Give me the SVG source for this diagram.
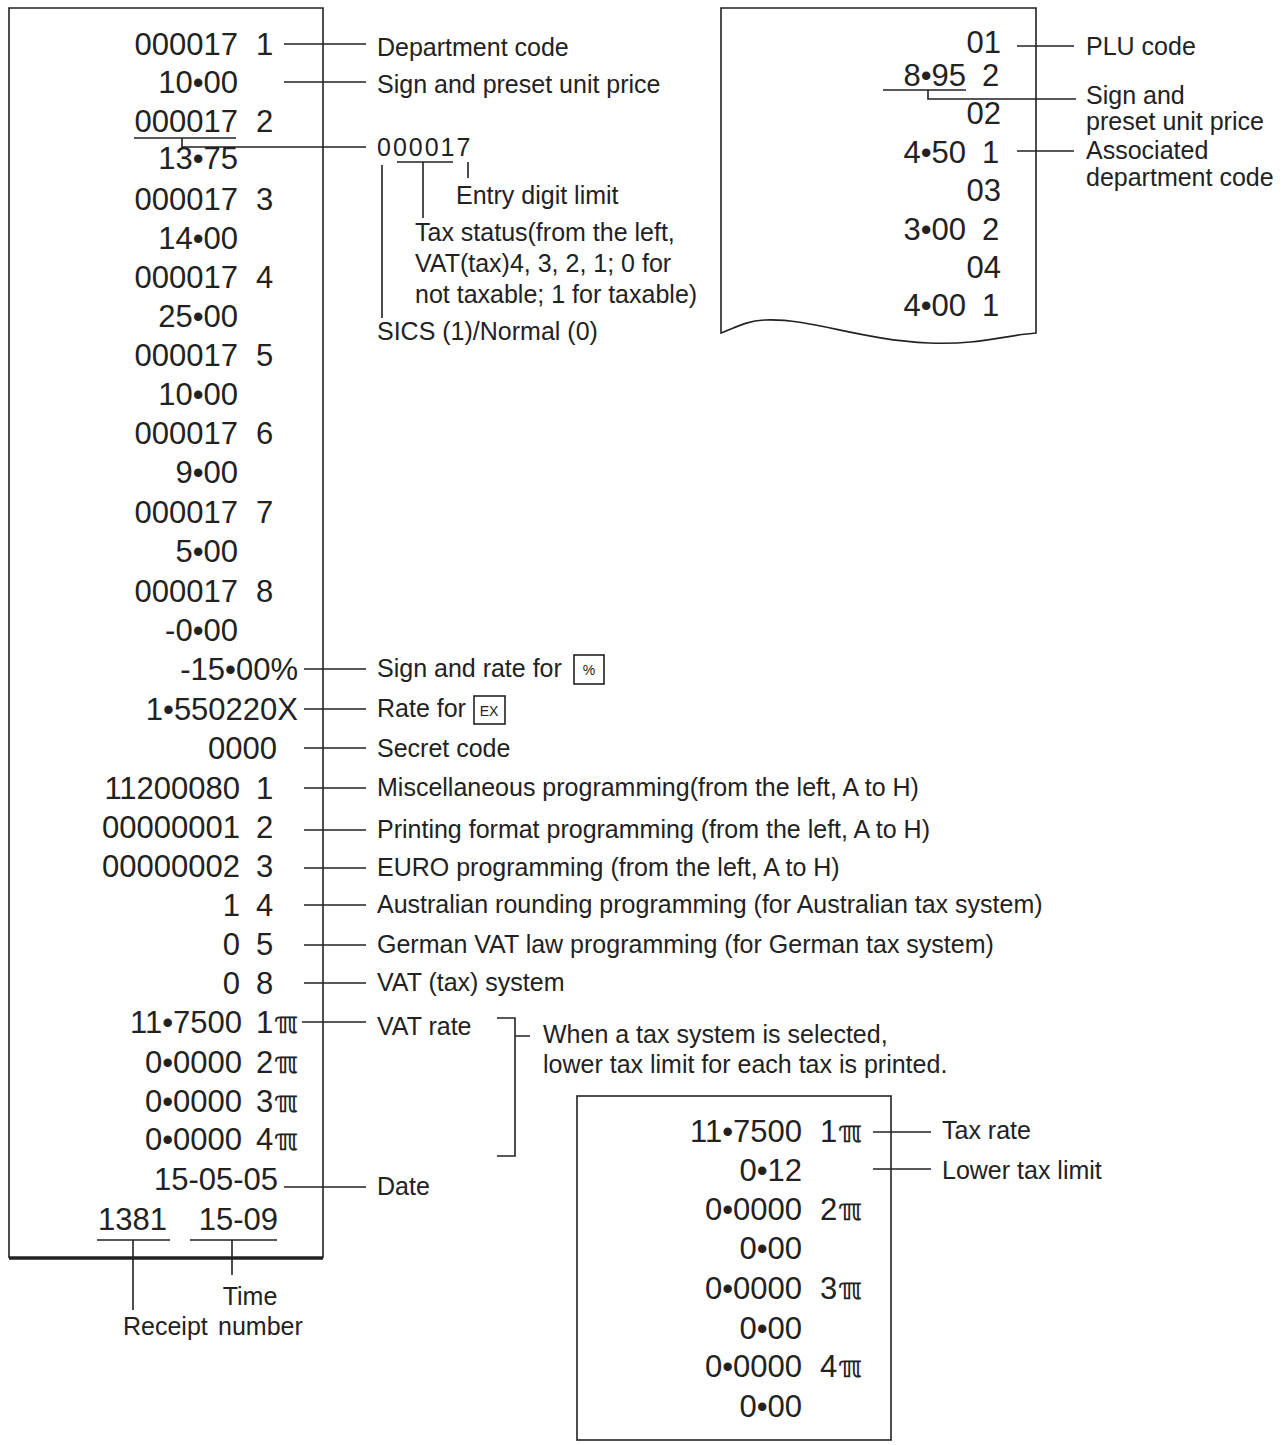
<svg xmlns="http://www.w3.org/2000/svg" width="1282" height="1445" viewBox="0 0 1282 1445">
<style>
.r{font-family:"Liberation Sans",Arial,sans-serif;font-size:31px;fill:#222;text-anchor:end}
.s{font-family:"Liberation Sans",Arial,sans-serif;font-size:31px;fill:#222}
.t{font-family:"Liberation Sans",Arial,sans-serif;font-size:25px;fill:#222}
.tm{font-family:"Liberation Sans",Arial,sans-serif;font-size:25px;fill:#222;text-anchor:middle}
.pi{font-family:"DejaVu Sans",sans-serif;font-size:30px;fill:#222;font-weight:bold}
.l{stroke:#222;stroke-width:1.6;fill:none}
.k{font-family:"Liberation Sans",Arial,sans-serif;font-size:14px;fill:#222;text-anchor:middle}
</style>
<rect width="1282" height="1445" fill="#fff"/>
<g id="receipt-left">
<path class="l" d="M9,1258 V8 H323 V1258"/>
<line x1="9" y1="1258" x2="323" y2="1258" stroke="#222" stroke-width="3.5"/>
<text class="r" x="238" y="55">000017</text><text class="s" x="256" y="55">1</text>
<text class="r" x="238" y="93">10•00</text>
<text class="r" x="238" y="132">000017</text><text class="s" x="256" y="132">2</text>
<text class="r" x="238" y="169">13•75</text>
<text class="r" x="238" y="210">000017</text><text class="s" x="256" y="210">3</text>
<text class="r" x="238" y="249">14•00</text>
<text class="r" x="238" y="288">000017</text><text class="s" x="256" y="288">4</text>
<text class="r" x="238" y="327">25•00</text>
<text class="r" x="238" y="366">000017</text><text class="s" x="256" y="366">5</text>
<text class="r" x="238" y="405">10•00</text>
<text class="r" x="238" y="444">000017</text><text class="s" x="256" y="444">6</text>
<text class="r" x="238" y="483">9•00</text>
<text class="r" x="238" y="523">000017</text><text class="s" x="256" y="523">7</text>
<text class="r" x="238" y="562">5•00</text>
<text class="r" x="238" y="602">000017</text><text class="s" x="256" y="602">8</text>
<text class="r" x="238" y="641">-0•00</text>
<text class="r" x="298" y="680">-15•00%</text>
<text class="r" x="298" y="720">1•550220X</text>
<text class="r" x="277" y="759">0000</text>
<text class="r" x="240" y="799">11200080</text><text class="s" x="256" y="799">1</text>
<text class="r" x="240" y="838">00000001</text><text class="s" x="256" y="838">2</text>
<text class="r" x="240" y="877">00000002</text><text class="s" x="256" y="877">3</text>
<text class="r" x="240" y="916">1</text><text class="s" x="256" y="916">4</text>
<text class="r" x="240" y="955">0</text><text class="s" x="256" y="955">5</text>
<text class="r" x="240" y="994">0</text><text class="s" x="256" y="994">8</text>
<text class="r" x="242" y="1033">11•7500</text><text class="s" x="256" y="1033">1</text><text class="pi" x="274" y="1033">ℼ</text>
<text class="r" x="242" y="1073">0•0000</text><text class="s" x="256" y="1073">2</text><text class="pi" x="274" y="1073">ℼ</text>
<text class="r" x="242" y="1112">0•0000</text><text class="s" x="256" y="1112">3</text><text class="pi" x="274" y="1112">ℼ</text>
<text class="r" x="242" y="1150">0•0000</text><text class="s" x="256" y="1150">4</text><text class="pi" x="274" y="1150">ℼ</text>
<text class="r" x="278" y="1190">15-05-05</text>
<text class="r" x="167" y="1230">1381</text>
<text class="r" x="278" y="1230">15-09</text>
</g>
<g id="receipt-plu">
<path class="l" d="M721,333 V8 H1036 V333 C1000,336 980,345 929,343 C860,340 810,318 765,320 C745,321 735,328 721,333 Z"/>
<text class="r" x="1001" y="53">01</text>
<text class="r" x="966" y="86">8•95</text><text class="s" x="982" y="86">2</text>
<text class="r" x="1001" y="124">02</text>
<text class="r" x="966" y="163">4•50</text><text class="s" x="982" y="163">1</text>
<text class="r" x="1001" y="201">03</text>
<text class="r" x="966" y="240">3•00</text><text class="s" x="982" y="240">2</text>
<text class="r" x="1001" y="278">04</text>
<text class="r" x="966" y="316">4•00</text><text class="s" x="982" y="316">1</text>
</g>
<g id="receipt-tax">
<rect class="l" x="577" y="1096" width="314" height="344"/>
<text class="r" x="802" y="1142">11•7500</text><text class="s" x="820" y="1142">1</text><text class="pi" x="838" y="1142">ℼ</text>
<text class="r" x="802" y="1181">0•12</text>
<text class="r" x="802" y="1220">0•0000</text><text class="s" x="820" y="1220">2</text><text class="pi" x="838" y="1220">ℼ</text>
<text class="r" x="802" y="1259">0•00</text>
<text class="r" x="802" y="1299">0•0000</text><text class="s" x="820" y="1299">3</text><text class="pi" x="838" y="1299">ℼ</text>
<text class="r" x="802" y="1339">0•00</text>
<text class="r" x="802" y="1377">0•0000</text><text class="s" x="820" y="1377">4</text><text class="pi" x="838" y="1377">ℼ</text>
<text class="r" x="802" y="1417">0•00</text>
</g>
<g id="labels">
<text class="t" x="377" y="56">Department code</text>
<text class="t" x="377" y="93">Sign and preset unit price</text>
<text class="t" x="377" y="156" letter-spacing="2">000017</text>
<text class="t" x="456" y="204">Entry digit limit</text>
<text class="t" x="415" y="241">Tax status(from the left,</text>
<text class="t" x="415" y="272">VAT(tax)4, 3, 2, 1; 0 for</text>
<text class="t" x="415" y="303">not taxable; 1 for taxable)</text>
<text class="t" x="377" y="340">SICS (1)/Normal (0)</text>
<text class="t" x="377" y="677">Sign and rate for</text>
<rect class="l" x="574" y="655" width="30" height="29"/><text class="k" x="589" y="675">%</text>
<text class="t" x="377" y="717">Rate for</text>
<rect class="l" x="474" y="696" width="31" height="28"/><text class="k" x="489" y="716">EX</text>
<text class="t" x="377" y="796">Miscellaneous programming(from the left, A to H)</text>
<text class="t" x="377" y="757">Secret code</text>
<text class="t" x="377" y="838">Printing format programming (from the left, A to H)</text>
<text class="t" x="377" y="876">EURO programming (from the left, A to H)</text>
<text class="t" x="377" y="913">Australian rounding programming (for Australian tax system)</text>
<text class="t" x="377" y="953">German VAT law programming (for German tax system)</text>
<text class="t" x="377" y="991">VAT (tax) system</text>
<text class="t" x="377" y="1035">VAT rate</text>
<text class="t" x="543" y="1043">When a tax system is selected,</text>
<text class="t" x="543" y="1073">lower tax limit for each tax is printed.</text>
<text class="t" x="377" y="1195">Date</text>
<text class="tm" x="250" y="1305">Time</text>
<text class="t" x="123" y="1335">Receipt</text>
<text class="t" x="218" y="1335">number</text>
<text class="t" x="1086" y="55">PLU code</text>
<text class="t" x="1086" y="104">Sign and</text>
<text class="t" x="1086" y="130">preset unit price</text>
<text class="t" x="1086" y="159">Associated</text>
<text class="t" x="1086" y="186">department code</text>
<text class="t" x="942" y="1139">Tax rate</text>
<text class="t" x="942" y="1179">Lower tax limit</text>
</g>
<g id="connectors" class="l">
<line x1="284" y1="44" x2="366" y2="44"/>
<line x1="284" y1="82" x2="366" y2="82"/>
<path d="M134,138 H236 M182,138 V147 H366"/>
<path d="M382,165 V318 M397,162 H453 M423,162 V218 M468,162 V178"/>
<line x1="304" y1="669" x2="366" y2="669"/>
<line x1="304" y1="709" x2="366" y2="709"/>
<line x1="304" y1="748" x2="366" y2="748"/>
<line x1="304" y1="788" x2="366" y2="788"/>
<line x1="304" y1="830" x2="366" y2="830"/>
<line x1="304" y1="868" x2="366" y2="868"/>
<line x1="304" y1="905" x2="366" y2="905"/>
<line x1="304" y1="945" x2="366" y2="945"/>
<line x1="304" y1="983" x2="366" y2="983"/>
<line x1="302" y1="1022" x2="366" y2="1022"/>
<path d="M497,1018 H515 V1156 H497 M515,1036 H530"/>
<line x1="284" y1="1187" x2="366" y2="1187"/>
<path d="M97,1240 H170 M190,1240 H277 M133,1240 V1310 M232,1240 V1275"/>
<line x1="1017" y1="46" x2="1074" y2="46"/>
<path d="M883,90 H966 M928,90 V99 H1076"/>
<line x1="1017" y1="151" x2="1074" y2="151"/>
<line x1="873" y1="1132" x2="931" y2="1132"/>
<line x1="873" y1="1169" x2="931" y2="1169"/>
</g>
</svg>
